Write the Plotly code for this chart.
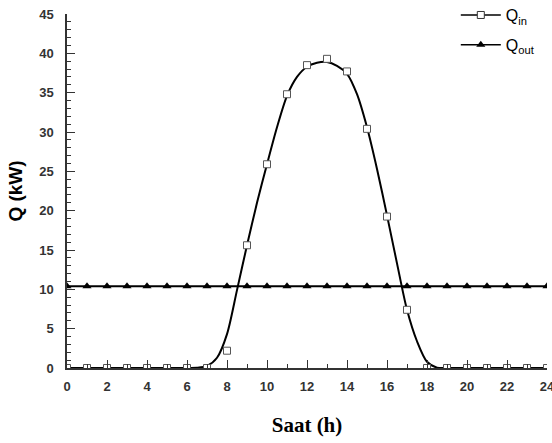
import plotly.graph_objects as go

hours = list(range(0, 25))
q_in = [0, 0, 0, 0, 0, 0, 0, 0, 2.2, 15.6, 25.9, 34.8, 38.5, 39.3, 37.7, 30.4,
        19.25, 7.4, 0, 0, 0, 0, 0, 0, 0]
q_out = [10.4] * 25

curve_x = [0, 1, 2, 3, 4, 5, 6, 6.5, 7, 7.5, 8, 8.5, 9, 9.5, 10, 10.5, 11, 11.5, 12,
           12.5, 13, 13.5, 14, 14.5, 15, 15.5, 16, 16.5, 17, 17.5, 18, 18.5, 19,
           20, 21, 22, 23, 24]
curve_y = [0, 0, 0, 0, 0, 0, 0, 0.02, 0.25, 1.3, 4.3, 9.9, 15.6, 21.0, 25.9, 30.6,
           34.6, 37.0, 38.3, 38.8, 38.9, 38.4, 37.4, 34.8, 30.6, 25.3, 19.4, 13.3,
           7.4, 3.4, 0.8, 0.05, 0, 0, 0, 0, 0, 0]

x_ticks = list(range(0, 25, 2))
y_ticks = list(range(0, 46, 5))

fig = go.Figure()
fig.add_trace(go.Scatter(x=curve_x, y=curve_y, mode="lines",
                         line=dict(color="black", width=2, shape="spline", smoothing=0.8),
                         showlegend=False, hoverinfo="skip"))
fig.add_trace(go.Scatter(x=hours, y=q_in, mode="markers",
                         marker=dict(symbol="square", size=7, color="white",
                                     line=dict(color="#555", width=1)),
                         showlegend=False))
fig.add_trace(go.Scatter(x=hours, y=q_out, mode="lines+markers",
                         line=dict(color="black", width=2),
                         marker=dict(symbol="triangle-up", size=8, color="black"),
                         showlegend=False))
# legend entries
fig.add_trace(go.Scatter(x=[None], y=[None], mode="lines+markers", name="Q<sub>in</sub>",
                         legendgroup="a",
                         line=dict(color="black", width=1.5),
                         marker=dict(symbol="square", size=7, color="white",
                                     line=dict(color="#333", width=1))))
fig.add_trace(go.Scatter(x=[None], y=[None], mode="lines+markers", name="Q<sub>out</sub>",
                         legendgroup="b",
                         line=dict(color="black", width=1.5),
                         marker=dict(symbol="triangle-up", size=8, color="black")))

tickfont = dict(family="Liberation Sans, Arial", size=13, color="#333")

fig.update_layout(
    width=552, height=443,
    margin=dict(l=67, r=5, t=14, b=75, autoexpand=False),
    plot_bgcolor="white", paper_bgcolor="white",
    showlegend=True,
    legend=dict(x=0.81, y=1.045, xanchor="left", yanchor="top",
                bgcolor="rgba(0,0,0,0)", font=dict(family="Liberation Sans, Arial", size=16, color="black"),
                tracegroupgap=6, itemwidth=40),
    xaxis=dict(range=[0, 24], tickmode="array", tickvals=x_ticks,
               ticktext=[f"<b>{v}</b>" for v in x_ticks],
               ticks="inside", ticklen=8, tickwidth=1.2, tickcolor="#333",
               minor=dict(tickvals=list(range(1, 24, 2)), ticks="inside", ticklen=4,
                          tickcolor="#333", tickwidth=1.2),
               showline=True, linecolor="#333", linewidth=1.5, showgrid=False, zeroline=False,
               tickfont=tickfont, ticklabelstandoff=6, ticklabeloverflow="allow",
               automargin=False,
               title=dict(text="<b>Saat (h)</b>", standoff=24,
                          font=dict(family="Liberation Serif, Times New Roman", size=21, color="black"))),
    yaxis=dict(range=[0, 45], tickmode="array", tickvals=y_ticks,
               ticktext=[f"<b>{v}</b>" for v in y_ticks],
               ticks="inside", ticklen=8, tickwidth=1.2, tickcolor="#333",
               minor=dict(tickvals=[v for v in range(0, 46) if v % 5], ticks="inside", ticklen=4,
                          tickcolor="#333", tickwidth=1.2),
               showline=True, linecolor="#333", linewidth=1.5, showgrid=False, zeroline=False,
               tickfont=tickfont, ticklabelstandoff=9, automargin=False,
               title=dict(text="<b>Q (kW)</b>", standoff=12,
                          font=dict(family="Liberation Sans, Arial", size=19, color="black"))),
)

fig.write_html("out.html")
